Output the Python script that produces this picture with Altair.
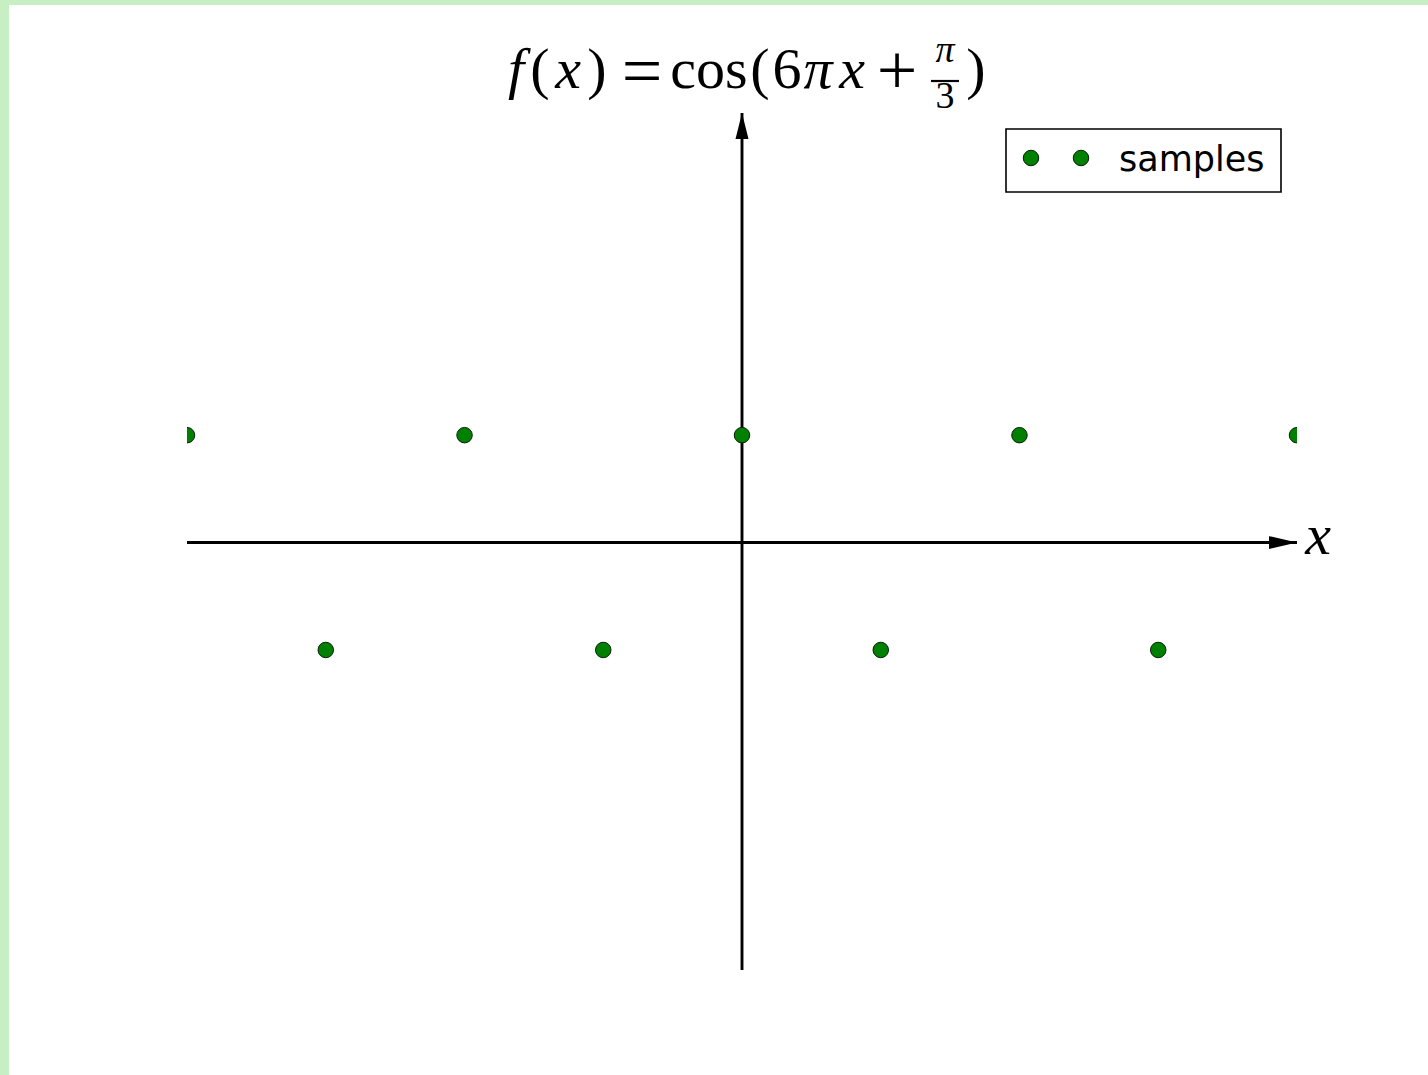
import altair as alt
import pandas as pd

# Sampled values of f(x) = cos(6*pi*x + pi/3)
x_vals = [-0.6667, -0.5, -0.3333, -0.1667, 0.0, 0.1667, 0.3333, 0.5, 0.6667]
y_vals = [0.5, -0.5, 0.5, -0.5, 0.5, -0.5, 0.5, -0.5, 0.5]
series_name = "samples"

x_domain = [-0.6667, 0.6667]
y_domain = [-1.99, 2.0]

# Canvas and axes-box geometry (pixels)
W, H = 1428, 1075
LEFT, TOP, RIGHT, BOTTOM = 187, 113, 1297, 970
PW, PH = RIGHT - LEFT, BOTTOM - TOP

GREEN = "#008000"
SERIF = "Liberation Serif"

xs = alt.Scale(domain=x_domain, nice=False, zero=False)
ys = alt.Scale(domain=y_domain, nice=False, zero=False)

one = pd.DataFrame({"k": [0]})
samples = pd.DataFrame({"x": x_vals, "y": y_vals, "series": series_name})


def px(v):
    return alt.value(v - LEFT)


def py(v):
    return alt.value(v - TOP)


def text(txt, cx, base, size=58, italic=False, font=SERIF, align="center"):
    return alt.Chart(one).mark_text(
        text=txt, font=font, fontSize=size,
        fontStyle="italic" if italic else "normal",
        align=align, baseline="alphabetic", color="black",
    ).encode(x=px(cx), y=py(base))


# White page with a thin green margin
page = alt.Chart(one).mark_rect(color="white", clip=False).encode(
    x=px(9), x2=px(W), y=py(5), y2=py(H)
)

# Axes through the origin
axes_df = pd.DataFrame({
    "x": [x_domain[0], 0.0], "x2": [x_domain[1], 0.0],
    "y": [0.0, y_domain[0]], "y2": [0.0, y_domain[1]],
})
axes = alt.Chart(axes_df).mark_rule(color="black", strokeWidth=2.9).encode(
    x=alt.X("x:Q", scale=xs, axis=None), x2="x2",
    y=alt.Y("y:Q", scale=ys, axis=None), y2="y2",
)

x_arrow = alt.Chart(pd.DataFrame({"x": [x_domain[1]], "y": [0.0]})).mark_point(
    shape="M0,0L-2,-0.46L-2,0.46Z", size=784, filled=True,
    color="black", opacity=1, clip=False,
).encode(x=alt.X("x:Q", scale=xs, axis=None), y=alt.Y("y:Q", scale=ys, axis=None))

y_arrow = alt.Chart(pd.DataFrame({"x": [0.0], "y": [y_domain[1]]})).mark_point(
    shape="M0,0L-0.5,2L0.5,2Z", size=676, filled=True,
    color="black", opacity=1, clip=False,
).encode(x=alt.X("x:Q", scale=xs, axis=None), y=alt.Y("y:Q", scale=ys, axis=None))

# Sample points, clipped to the axes box
points = alt.Chart(samples).mark_point(
    shape="circle", size=240, filled=True, fill=GREEN, stroke="#0a200a",
    strokeWidth=1, opacity=1, clip=True,
).encode(x=alt.X("x:Q", scale=xs, axis=None), y=alt.Y("y:Q", scale=ys, axis=None))

# Title: f(x) = cos(6 pi x + pi/3)
BASE = 88
title = [
    text("f", 516, BASE, italic=True),
    text("(", 540, BASE),
    text("x", 568, BASE, italic=True),
    text(")", 597, BASE),
    text("=", 642, BASE + 7, size=72),
    text("cos", 709, BASE),
    text("(", 760, BASE),
    text("6", 787, BASE),
    text("π", 818, BASE, italic=True),
    text("x", 852, BASE, italic=True),
    text("+", 897, BASE + 6, size=72),
    text("π", 945, 62, size=38, italic=True),
    alt.Chart(one).mark_rule(color="black", strokeWidth=2.2).encode(
        x=px(931), x2=px(959), y=py(81)
    ),
    text("3", 945, 108, size=38),
    text(")", 976, BASE),
]

x_label = text("x", 1318, 554, italic=True)

# Legend box with two marker samples
legend_box = alt.Chart(one).mark_rect(
    fill="white", stroke="black", strokeWidth=1.6, clip=False
).encode(x=px(1006), x2=px(1281), y=py(129), y2=py(192))
legend_pts = alt.Chart(pd.DataFrame({"px": [1031 - LEFT, 1081 - LEFT]})).mark_point(
    shape="circle", size=240, filled=True, fill=GREEN, stroke="#0a200a",
    strokeWidth=1, opacity=1, clip=False,
).encode(
    x=alt.X("px:Q", scale=None, axis=None), y=py(158)
)
legend_txt = text(series_name, 1119, 171, size=35, font="DejaVu Sans", align="left")

chart = alt.layer(
    page, axes, points, x_arrow, y_arrow, *title, x_label,
    legend_box, legend_pts, legend_txt,
).properties(
    width=PW, height=PH,
    autosize=alt.AutoSizeParams(type="none"),
    padding={"left": LEFT, "top": TOP, "right": W - RIGHT, "bottom": H - BOTTOM},
    background="#c8eec4",
).configure_view(stroke=None)

chart.save("out.html", embed_options={"renderer": "svg", "actions": False})
